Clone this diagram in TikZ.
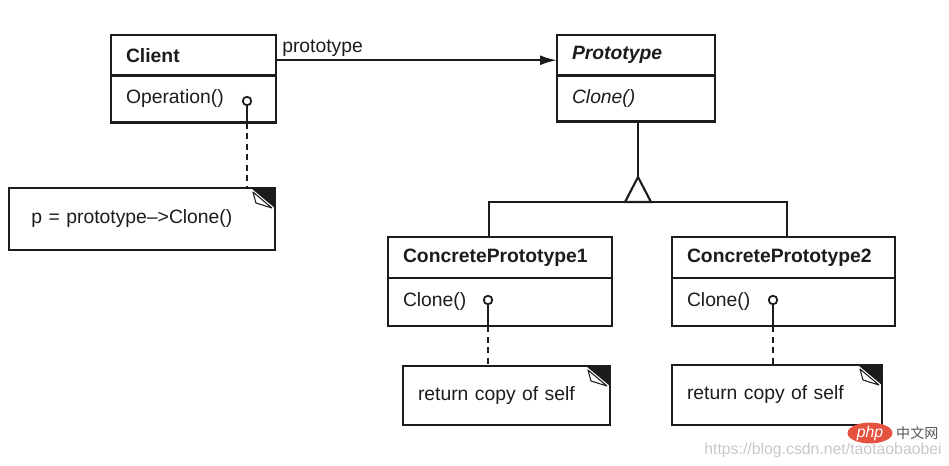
\documentclass[tikz,border=0pt]{standalone}
\usepackage{fontspec}
\setmainfont{Liberation Sans}
\newfontfamily\cjkfont{Noto Sans CJK SC}
\usepackage{tikz}
\usepackage{xcolor}
\usetikzlibrary{calc,arrows.meta,positioning,shapes.geometric}
\definecolor{inkBlack}{RGB}{28,28,28}
\definecolor{markGray}{RGB}{200,200,200}
\definecolor{phpRed}{RGB}{230,82,64}
\definecolor{phpInk}{RGB}{85,85,85}
\tikzset{
  umlLine/.style={draw=inkBlack,line width=1.2pt},
  umlBox/.style={umlLine,rectangle,outer sep=0pt,inner xsep=0.3cm,inner ysep=0pt,
    align=left,anchor=north west,text=inkBlack,font=\fontsize{11}{13}\selectfont},
  classHead/.style={umlBox,minimum height=0.81cm,font=\bfseries\fontsize{11}{13}\selectfont},
  classBody/.style={umlBox,minimum height=0.94cm},
  noteBox/.style={umlBox,fill=white},
  lolli/.style={circle,draw=inkBlack,line width=1pt,fill=white,minimum size=0.17cm,inner sep=0pt},
  noteLink/.style={umlLine,dash pattern=on 3.5pt off 2.5pt}
}
\newcommand{\NoteCorner}[1]{%
  \fill[inkBlack] ($(#1.north east)+(-24,0)$) -- (#1.north east) -- ++(0,20) -- cycle;
  \draw[inkBlack,line width=0.6pt,line join=round,fill=white] ($(#1.north east)+(-22,4)$) -- ($(#1.north east)+(-3,20)$)
    -- ($(#1.north east)+(-19,15)$) -- cycle;}

\begin{document}
\begin{tikzpicture}[x=0.02cm,y=-0.02cm]
\useasboundingbox (0,0) rectangle (949,466);
% classes
\node[classHead,text width=2.70cm] (clientH) at (111,35) {Client};
\node[classBody,text width=2.70cm] (clientB) at (clientH.south west) {Operation()};
\node[classHead,text width=2.56cm,font=\bfseries\itshape\fontsize{11}{13}\selectfont] (protoH) at (557,35) {Prototype};
\node[classBody,text width=2.56cm,minimum height=0.92cm,font=\itshape\fontsize{11}{13}\selectfont] (protoB) at (protoH.south west) {Clone()};
\node[classHead,text width=3.88cm,minimum height=0.82cm] (cp1H) at (388,237) {ConcretePrototype1};
\node[classBody,text width=3.88cm,minimum height=0.96cm] (cp1B) at (cp1H.south west) {Clone()};
\node[classHead,text width=3.86cm,minimum height=0.82cm] (cp2H) at (672,237) {ConcretePrototype2};
\node[classBody,text width=3.86cm,minimum height=0.96cm] (cp2B) at (cp2H.south west) {Clone()};
% notes
\node[noteBox,text width=4.42cm,inner xsep=0.45cm,minimum height=1.24cm] (note0) at (9,188) {p = prototype\textendash{}>Clone()};
\node[noteBox,text width=3.54cm,minimum height=1.18cm] (note1) at (403,366) {return copy of self};
\node[noteBox,text width=3.60cm,minimum height=1.20cm] (note2) at (672,365) {return copy of self};
\NoteCorner{note0}
\NoteCorner{note1}
\NoteCorner{note2}
% association
\draw[umlLine,-{Latex[length=3.4mm,width=2mm]}] ([yshift=-0.1cm]clientH.east) -- ([yshift=-0.1cm]clientH.east -| protoH.west)
  node[pos=0,anchor=south west,inner xsep=3pt,inner ysep=1.8pt,text=inkBlack,font=\fontsize{11}{13}\selectfont] (protoLbl) {prototype};
% inheritance
\coordinate (triTip) at (638,177);
\coordinate (busL) at (489,202);
\coordinate (busR) at (787,202);
\draw[umlLine] (triTip |- protoB.south) -- (triTip);
\draw[umlLine,fill=white,line join=miter] (triTip) -- ++(-13,25) -- ++(26,0) -- cycle;
\draw[umlLine] (busL |- cp1H.north) -- (busL) -- (busR) -- (busR |- cp2H.north);
% implementation notes
\node[lolli] (clientPin) at (247,101) {};
\node[lolli] (cp1Pin) at (488,300) {};
\node[lolli] (cp2Pin) at (773,300) {};
\foreach \pin/\cls/\note in {clientPin/clientB/note0,cp1Pin/cp1B/note1,cp2Pin/cp2B/note2}{
  \draw[umlLine,line width=1pt] (\pin.south) -- (\pin |- \cls.south);
  \draw[noteLink] (\pin |- \cls.south) -- (\pin |- \note.north);
}
% watermark
\node[anchor=west,inner sep=0pt,text=markGray,font=\fontsize{9}{10}\selectfont] (wmUrl) at (704,450) {https://blog.csdn.net/taotaobaobei};
\node[ellipse,fill=phpRed,text=white,minimum width=0.9cm,minimum height=0.34cm,inner sep=0pt,font=\itshape\fontsize{9}{9}\selectfont] (wmPhp) at (870,433) {php};
\node[right=0.06cm of wmPhp,inner sep=0pt,text=phpInk,font=\cjkfont\fontsize{8}{9}\selectfont] (wmCn) {中文网};
\end{tikzpicture}
\end{document}
